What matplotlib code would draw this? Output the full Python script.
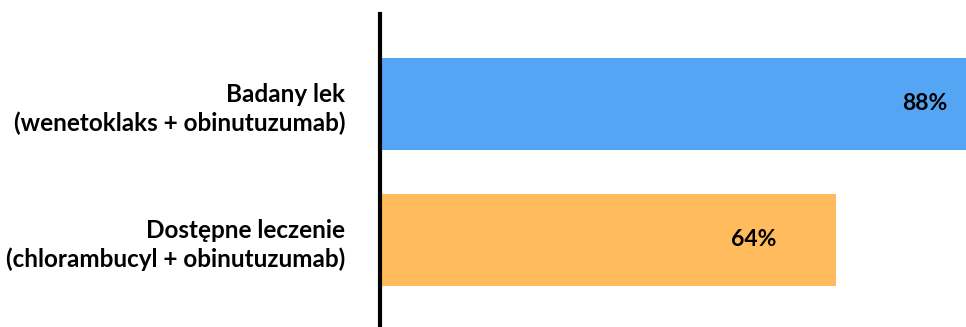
import matplotlib.pyplot as plt

categories = ["Badany lek\n(wenetoklaks + obinutuzumab)",
              "Dostępne leczenie\n(chlorambucyl + obinutuzumab)"]
values = [88, 64]
labels = ["88%", "64%"]
colors = ["#55A5F5", "#FFBB5C"]

plt.rcParams['font.family'] = ['Lato', 'DejaVu Sans']

fig = plt.figure(figsize=(9.66, 3.27), dpi=100)
ax = fig.add_axes([0.3934, 0.0, 0.6066, 0.957])

pos = list(range(len(values)))
ax.barh(pos, values, height=0.68, color=colors)

for p, v, lab in zip(pos, values, labels):
    ax.text(v - 11.5, p, lab, ha='center', va='center', fontsize=16.5, fontweight='bold')

ax.set_xlim(0, 82.3)
ax.set_ylim(1.64, -0.66)
ax.set_yticks(pos)
ax.set_yticklabels(categories, fontsize=17.5, fontweight='bold', linespacing=1.3)
ax.tick_params(axis='y', length=0, pad=25)
ax.set_xticks([])
for side in ['top', 'right', 'bottom']:
    ax.spines[side].set_visible(False)
ax.spines['left'].set_linewidth(3)

fig.savefig('out.png', dpi=100)
